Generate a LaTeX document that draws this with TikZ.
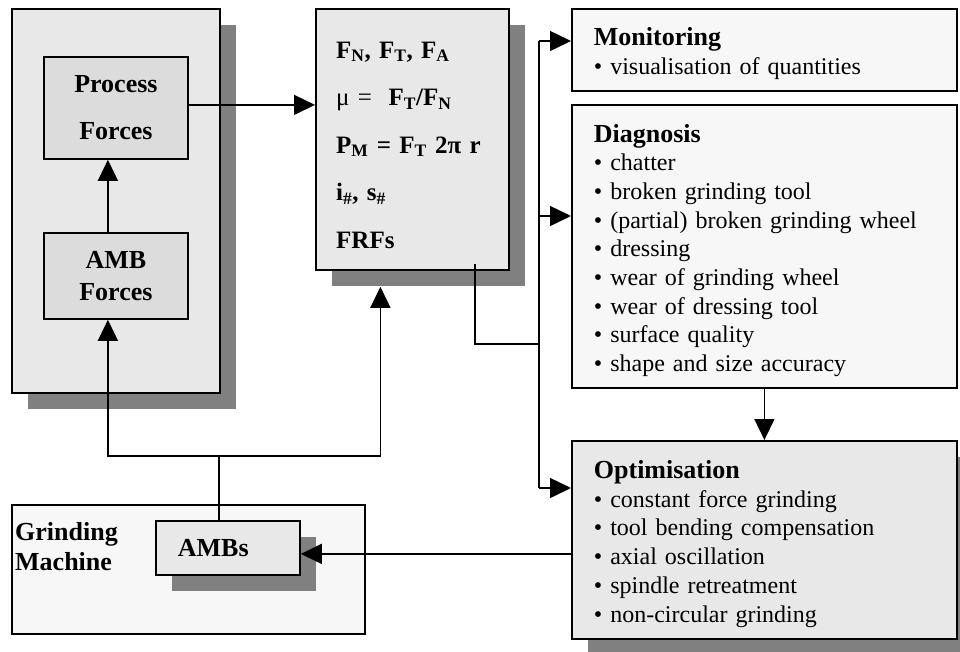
\documentclass[tikz,border=0pt]{standalone}
\usepackage{fontspec}
\setmainfont{Liberation Serif}
\usetikzlibrary{arrows.meta,shadows}

\definecolor{shade}{HTML}{808080}
\definecolor{panel}{HTML}{E8E8E8}
\definecolor{inbox}{HTML}{DCDCDC}
\definecolor{pale}{HTML}{F7F7F7}

\begin{document}
\begin{tikzpicture}[
  x=1pt, y=-1pt,
  box/.style={draw, line width=1.8pt, rectangle, inner sep=0pt, anchor=north west}, % plain framed box
  shadowed/.style={drop shadow={shadow xshift=16pt, shadow yshift=-16pt, fill=shade, opacity=1}},
  bold/.style={font=\fontsize{26}{30}\selectfont\bfseries},
  listbox/.style={box, align=left, inner xsep=22pt, text height=26pt, font=\fontsize{24}{28.7}\selectfont},
  link/.style={line width=1.5pt, -{Triangle[length=21pt,width=20pt]}},
  wire/.style={line width=1.5pt}
]
  \useasboundingbox (0,0) rectangle (960,651);

  % forces column
  \node [box, shadowed, fill=panel, minimum width=208pt, minimum height=384pt] (sens) at (11,8) {};
  \node [box, bold, fill=inbox, align=center, minimum width=144pt, minimum height=102pt] (proc) at (43,56) {Process\\[17pt]Forces};
  \node [box, bold, fill=inbox, align=center, minimum width=144pt, minimum height=86pt] (amb) at (43,232) {AMB\\[2pt]Forces};

  % computed quantities
  \node [box, shadowed, fill=panel, minimum width=193pt, minimum height=261pt] (calc) at (315,8) {};
  \node [anchor=base west, inner sep=0pt, align=left, text width=165pt,
         font=\fontsize{25}{47.5}\selectfont\bfseries] (calctext) at (336,58)
    {F\textsubscript{N}, F\textsubscript{T}, F\textsubscript{A}\\
     \textmd{μ =}\ \ F\textsubscript{T}/F\textsubscript{N}\\
     P\textsubscript{M} = F\textsubscript{T} 2π r\\
     i\textsubscript{\#}, s\textsubscript{\#}\\
     FRFs};

  % machine
  \node [box, fill=pale, minimum width=353pt, minimum height=129pt] (mach) at (11,504) {};
  \node [anchor=base west, inner sep=0pt, align=left, text width=120pt, bold] (machtext) at (15,540) {Grinding\\Machine};
  \node [box, shadowed, bold, fill=panel, align=left, inner xsep=22pt, text width=100pt,
         minimum width=144pt, minimum height=54pt] (ambs) at (155,520) {AMBs};

  % applications
  \node [listbox, fill=pale, minimum width=385pt, minimum height=82pt, text width=341pt] (mon) at (571,8)
    {{\fontsize{26}{28.7}\selectfont\bfseries Monitoring}\\
     • visualisation of quantities};
  \node [listbox, fill=pale, minimum width=385pt, minimum height=283pt, text width=341pt] (diag) at (571,104)
    {{\fontsize{26}{28.7}\selectfont\bfseries Diagnosis}\\
     • chatter\\
     • broken grinding tool\\
     • (partial) broken grinding wheel\\
     • dressing\\
     • wear of grinding wheel\\
     • wear of dressing tool\\
     • surface quality\\
     • shape and size accuracy};
  \node [listbox, shadowed, fill=panel, minimum width=385pt, minimum height=198pt, text width=341pt] (opt) at (571,440)
    {{\fontsize{26}{28.7}\selectfont\bfseries Optimisation}\\
     • constant force grinding\\
     • tool bending compensation\\
     • axial oscillation\\
     • spindle retreatment\\
     • non-circular grinding};

  % connections
  \draw [link] ([xshift=-8pt]amb.north) -- ([xshift=-8pt]proc.south);
  \coordinate (pf) at ([yshift=3pt]proc.east);
  \draw [link] (pf) -- (pf -| calc.west);

  \coordinate (split) at (219,456);
  \draw [wire] (split |- ambs.north) -- (split);
  \draw [link] (split) -| ([xshift=-8pt]amb.south);
  \draw [link] (split) -| ([xshift=-32pt,yshift=-16pt]calc.south);

  \coordinate (tap) at (475,264);
  \coordinate (bus) at (539,344);
  \coordinate (t1) at (539,41);
  \coordinate (t2) at (539,216);
  \coordinate (t3) at (539,488);
  \draw [wire] (tap) |- (bus);
  \draw [wire] (t1) -- (t3);
  \draw [link] (t1) -- (t1 -| mon.west);
  \draw [link] (t2) -- (t2 -| diag.west);
  \draw [link] (t3) -- (t3 -| opt.west);
  \draw [link] (diag.south) -- (opt.north);

  \coordinate (back) at ([yshift=-14pt]opt.west);
  \draw [link] (back) -- (back -| ambs.east);
\end{tikzpicture}
\end{document}
